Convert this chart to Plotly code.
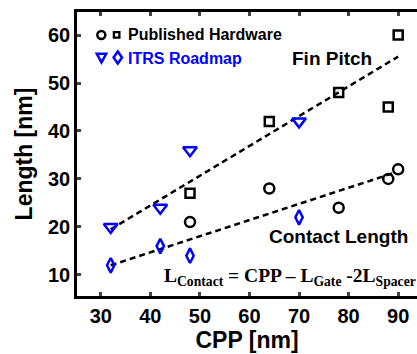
import plotly.graph_objects as go

# ---- data ----
hw_fin_cpp = [48, 64, 78, 88, 90]
hw_fin_len = [27, 42, 48, 45, 60]
hw_contact_cpp = [48, 64, 78, 88, 90]
hw_contact_len = [21, 28, 24, 30, 32]
itrs_fin_cpp = [32, 42, 48, 70]
itrs_fin_len = [20, 24, 36, 42]
itrs_contact_cpp = [32, 42, 48, 70]
itrs_contact_len = [12, 16, 14, 22]
fin_fit_cpp = [32, 90]
fin_fit_len = [19.5, 55.5]
contact_fit_cpp = [32, 89]
contact_fit_len = [12, 31.2]
x_ticks = [30, 40, 50, 60, 70, 80, 90]
y_ticks = [10, 20, 30, 40, 50, 60]

BLUE = "#0000FF"
W, H = 417, 354
L, R, T, B = 77, 0, 12, 58
PW, PH = W - L - R, H - T - B


def px(x):
    return (x - L) / PW


def py(y):
    return (H - B - y) / PH


fig = go.Figure()
dash = "6px,4px"
fig.add_trace(go.Scatter(x=fin_fit_cpp, y=fin_fit_len, mode="lines",
                         line=dict(color="black", width=2.5, dash=dash)))
fig.add_trace(go.Scatter(x=contact_fit_cpp, y=contact_fit_len, mode="lines",
                         line=dict(color="black", width=2.5, dash=dash)))
fig.add_trace(go.Scatter(x=hw_fin_cpp, y=hw_fin_len, mode="markers",
                         marker=dict(symbol="square-open", size=9, color="black",
                                     line=dict(width=2.5, color="black"))))
fig.add_trace(go.Scatter(x=hw_contact_cpp, y=hw_contact_len, mode="markers",
                         marker=dict(symbol="circle-open", size=10, color="black",
                                     line=dict(width=2.5, color="black"))))
fig.add_trace(go.Scatter(x=itrs_fin_cpp, y=itrs_fin_len, mode="markers",
                         marker=dict(symbol="triangle-down-open", size=12, color=BLUE,
                                     line=dict(width=2.5, color=BLUE))))
fig.add_trace(go.Scatter(x=itrs_contact_cpp, y=itrs_contact_len, mode="markers",
                         marker=dict(symbol="diamond-tall-open", size=10.5, color=BLUE,
                                     line=dict(width=2.5, color=BLUE))))

# legend icons (decoration drawn as layout shapes, pixel -> paper)
shapes = []
sref = dict(xref="paper", yref="paper")
shapes.append(dict(type="circle", x0=px(97.3), x1=px(105.3), y0=py(39), y1=py(31),
                   line=dict(color="black", width=2.5), **sref))
shapes.append(dict(type="rect", x0=px(113.9), x1=px(119.4), y0=py(37.7), y1=py(32.2),
                   line=dict(color="black", width=2.3), **sref))
tri = "M {} {} L {} {} L {} {} Z".format(px(96.8), py(53.8), px(106.2), py(53.8), px(101.5), py(62.3))
shapes.append(dict(type="path", path=tri, line=dict(color=BLUE, width=2.5), **sref))
dia = "M {} {} L {} {} L {} {} L {} {} Z".format(px(117.8), py(51.5), px(122), py(57.5),
                                                  px(117.8), py(63.5), px(113.6), py(57.5))
shapes.append(dict(type="path", path=dia, line=dict(color=BLUE, width=2.5), **sref))

ann = []
sans = "Liberation Sans, Arial, sans-serif"
ann.append(dict(x=px(126), y=py(34), text="Published Hardware", font=dict(family=sans, size=16, color="black", weight="bold")))
ann.append(dict(x=px(126), y=py(58), text="ITRS Roadmap", font=dict(family=sans, size=16, color=BLUE, weight="bold")))
ann.append(dict(x=px(290), y=py(58), text="Fin Pitch", font=dict(family=sans, size=19, color="black", weight="bold")))
ann.append(dict(x=px(267), y=py(237), text="Contact Length", font=dict(family=sans, size=19, color="black", weight="bold")))
ann.append(dict(x=px(162), y=py(277), text="L<sub>Contact</sub> = CPP – L<sub>Gate</sub> -2L<sub>Spacer</sub>",
                font=dict(family="Liberation Serif, Times New Roman, serif", size=19.5, color="black", weight="bold")))
for a in ann:
    a.update(xref="paper", yref="paper", xanchor="left", yanchor="middle", showarrow=False)

fig.update_layout(
    width=W, height=H,
    margin=dict(l=L, r=R, t=T, b=B),
    plot_bgcolor="white", paper_bgcolor="white",
    showlegend=False,
    annotations=ann,
    shapes=shapes,
    font=dict(family=sans, color="black"),
)
fig.update_xaxes(range=[25.2, 93.8], tickvals=x_ticks, ticks="inside", ticklen=4, tickwidth=2.5,
                 showline=True, linewidth=2.5, linecolor="black", mirror="ticks",
                 showgrid=False, zeroline=False,
                 tickfont=dict(family=sans, size=20, color="black", weight="bold"),
                 title=dict(text="CPP [nm]", font=dict(family=sans, size=23, color="black", weight="bold"), standoff=0))
fig.update_yaxes(range=[5.6, 64.8], tickvals=y_ticks, ticks="inside", ticklen=4, tickwidth=2.5,
                 showline=True, linewidth=2.5, linecolor="black", mirror=False,
                 showgrid=False, zeroline=False,
                 tickfont=dict(family=sans, size=20, color="black", weight="bold"),
                 title=dict(text="Length [nm]", font=dict(family=sans, size=23, color="black", weight="bold"), standoff=9))

fig.write_html("out.html")
